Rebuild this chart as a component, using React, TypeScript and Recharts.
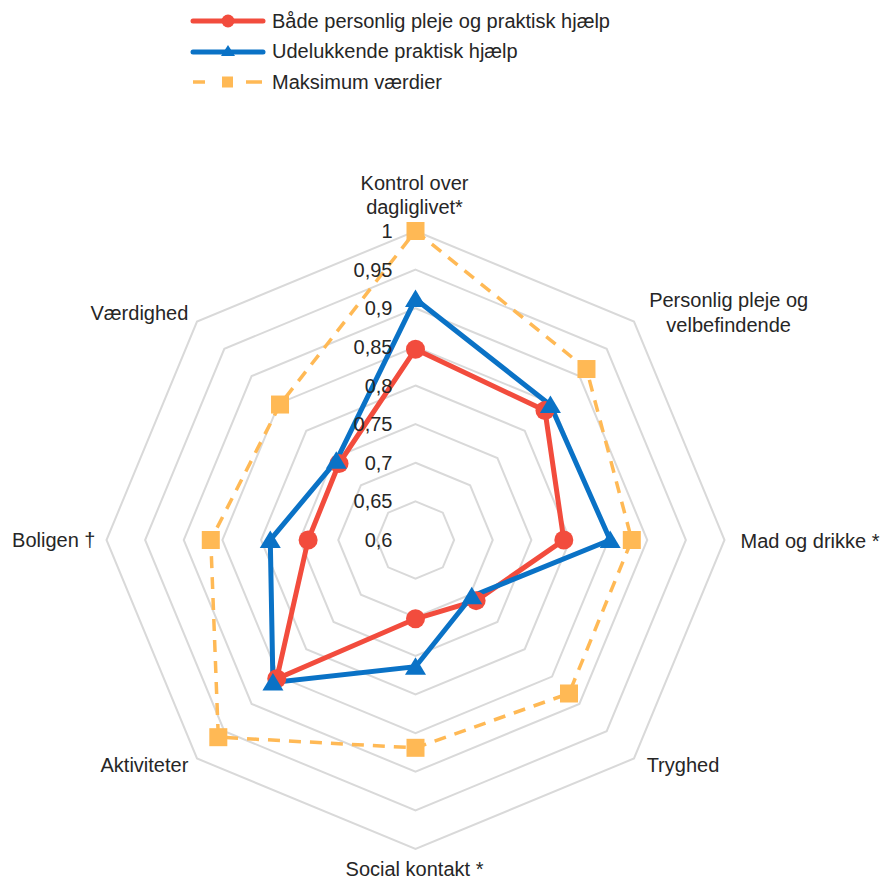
import React from 'react';
import { RadarChart, Radar, PolarGrid, PolarAngleAxis, PolarRadiusAxis, Legend } from 'recharts';

const categories = [
  'Kontrol over\ndagliglivet*',
  'Personlig pleje og\nvelbefindende',
  'Mad og drikke *',
  'Tryghed',
  'Social kontakt *',
  'Aktiviteter',
  'Boligen †',
  'Værdighed',
];

const seriesNames = ['Både personlig pleje og praktisk hjælp', 'Udelukkende praktisk hjælp', 'Maksimum værdier'];

const bothValues = [0.847, 0.837, 0.792, 0.711, 0.702, 0.854, 0.739, 0.740];
const practicalValues = [0.912, 0.847, 0.852, 0.703, 0.764, 0.861, 0.788, 0.745];
const maxValues = [1.0, 0.913, 0.88, 0.881, 0.869, 0.961, 0.865, 0.848];

const radiusTicks = [0.6, 0.65, 0.7, 0.75, 0.8, 0.85, 0.9, 0.95, 1];

const data = categories.map((name, i) => ({
  name,
  both: bothValues[i],
  practical: practicalValues[i],
  max: maxValues[i],
}));

const RED = '#F24C3D';
const BLUE = '#0A72C6';
const ORANGE = '#FFB955';
const TEXT = '#262626';
const FONT = 'Liberation Sans, Arial, sans-serif';

const labelLayout = [
  { dx: -1, dys: [-40, -16], anchor: 'middle' },
  { dx: 89, dys: [-16, 9], anchor: 'middle' },
  { dx: 8, dys: [1], anchor: 'start' },
  { dx: 7, dys: [1], anchor: 'start' },
  { dx: -1, dys: [12], anchor: 'middle' },
  { dx: -3, dys: [1], anchor: 'end' },
  { dx: -3, dys: [0], anchor: 'end' },
  { dx: -3, dys: [-3], anchor: 'end' },
];

const AngleTick = (props: any) => {
  const { x, y, payload, index } = props;
  const lay = labelLayout[index] || { dx: 0, dys: [0], anchor: 'middle' };
  const lines = String(payload.value).split('\n');
  return (
    <g>
      {lines.map((ln, k) => (
        <text
          key={k}
          x={x + lay.dx}
          y={y + lay.dys[k]}
          dy="0.35em"
          textAnchor={lay.anchor}
          fontSize={20}
          fontFamily={FONT}
          fill={TEXT}
        >
          {ln}
        </text>
      ))}
    </g>
  );
};

const RadiusTick = (props: any) => {
  const { x, y, payload } = props;
  return (
    <text x={x - 23} y={y} dy="0.35em" textAnchor="end" fontSize={20} fontFamily={FONT} fill={TEXT}>
      {String(payload.value).replace('.', ',')}
    </text>
  );
};

const circleDot = (props: any) => (
  <circle key={`c-${props.index}`} cx={props.cx} cy={props.cy} r={9.5} fill={RED} stroke="none" />
);
const triangleDot = (props: any) => {
  const { cx, cy } = props;
  return (
    <polygon
      key={`t-${props.index}`}
      points={`${cx},${cy - 9.5} ${cx - 10.5},${cy + 8} ${cx + 10.5},${cy + 8}`}
      fill={BLUE}
      stroke="none"
    />
  );
};
const squareDot = (props: any) => (
  <rect key={`s-${props.index}`} x={props.cx - 9} y={props.cy - 9} width={18} height={18} fill={ORANGE} stroke="none" />
);

const LegendContent = () => {
  const rows = [
    { name: seriesNames[0], kind: 'circle' },
    { name: seriesNames[1], kind: 'triangle' },
    { name: seriesNames[2], kind: 'square' },
  ];
  return (
    <div style={{ fontFamily: FONT, fontSize: 20, color: TEXT }}>
      {rows.map((r) => (
        <div key={r.name} style={{ display: 'flex', alignItems: 'center', height: 30.5, whiteSpace: 'nowrap' }}>
          <svg width={76} height={30} style={{ display: 'block' }}>
            {r.kind === 'circle' && (
              <g>
                <line x1={3} y1={15} x2={73} y2={15} stroke={RED} strokeWidth={5} strokeLinecap="round" />
                <circle cx={38} cy={15} r={6.5} fill={RED} />
              </g>
            )}
            {r.kind === 'triangle' && (
              <g>
                <line x1={3} y1={15} x2={73} y2={15} stroke={BLUE} strokeWidth={5} strokeLinecap="round" />
                <polygon points="38,8 31,19 45,19" fill={BLUE} />
              </g>
            )}
            {r.kind === 'square' && (
              <g>
                <line x1={3} y1={15} x2={15} y2={15} stroke={ORANGE} strokeWidth={3.5} />
                <rect x={32} y={9.5} width={11} height={11} fill={ORANGE} />
                <line x1={56} y1={15} x2={72} y2={15} stroke={ORANGE} strokeWidth={3.5} />
              </g>
            )}
          </svg>
          <span style={{ marginLeft: 6 }}>{r.name}</span>
        </div>
      ))}
    </div>
  );
};

export default function App() {
  return (
    <div style={{ position: 'absolute', left: 0, top: 0, width: 892, height: 881, background: '#fff' }}>
      <RadarChart
        width={892}
        height={881}
        data={data}
        cx={415.5}
        cy={540}
        outerRadius={309}
        startAngle={90}
        endAngle={-270}
        margin={{ top: 0, right: 0, bottom: 0, left: 0 }}
      >
        <PolarGrid gridType="polygon" radialLines={false} stroke="#D9D9D9" strokeWidth={2} />
        <PolarAngleAxis dataKey="name" tick={<AngleTick />} tickLine={false} axisLine={false} />
        <PolarRadiusAxis
          angle={90}
          type="number"
          domain={[0.6, 1]}
          ticks={radiusTicks}
          tick={<RadiusTick />}
          axisLine={false}
          tickLine={false}
        />
        <Radar
          name={seriesNames[2]}
          dataKey="max"
          stroke={ORANGE}
          strokeWidth={3.5}
          strokeDasharray="12 9"
          fill="none"
          fillOpacity={0}
          dot={squareDot}
          isAnimationActive={false}
        />
        <Radar
          name={seriesNames[0]}
          dataKey="both"
          stroke={RED}
          strokeWidth={5}
          fill="none"
          fillOpacity={0}
          dot={circleDot}
          isAnimationActive={false}
        />
        <Radar
          name={seriesNames[1]}
          dataKey="practical"
          stroke={BLUE}
          strokeWidth={5}
          fill="none"
          fillOpacity={0}
          dot={triangleDot}
          isAnimationActive={false}
        />
        <Legend
          layout="horizontal"
          verticalAlign="middle"
          align="center"
          wrapperStyle={{ top: 6, left: 190, width: 'auto' }}
          content={<LegendContent />}
        />
      </RadarChart>
    </div>
  );
}
